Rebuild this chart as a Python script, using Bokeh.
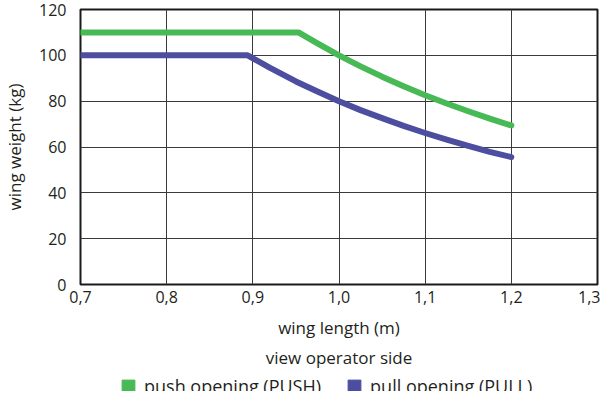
from bokeh.plotting import figure
from bokeh.layouts import column
from bokeh.models import (FixedTicker, CustomJSTickFormatter, Range1d, Legend, LegendItem, Title)
from bokeh.embed import file_html
from bokeh.resources import INLINE

# data
push_length = [0.7, 0.953, 0.975, 1.0, 1.025, 1.05, 1.075, 1.1, 1.125, 1.15, 1.175, 1.2]
push_weight = [110, 110, 105.2, 100, 95.2, 90.7, 86.5, 82.6, 79.0, 75.6, 72.4, 69.4]
pull_length = [0.7, 0.894, 0.92, 0.95, 0.975, 1.0, 1.025, 1.05, 1.075, 1.1, 1.125, 1.15, 1.175, 1.2]
pull_weight = [100, 100, 94.5, 88.6, 84.2, 80, 76.1, 72.6, 69.2, 66.1, 63.2, 60.5, 57.9, 55.6]
x_ticks = [0.7, 0.8, 0.9, 1.0, 1.1, 1.2, 1.3]
y_ticks = [0, 20, 40, 60, 80, 100, 120]
series_names = ["push opening (PUSH)", "pull opening (PULL)"]

GREEN = "#47b955"
BLUE = "#4d4ea0"
TEXT = "#231f20"
FONT = "Open Sans"

p = figure(width=600, height=370, output_backend="svg", toolbar_location=None,
           x_range=Range1d(0.7, 1.3), y_range=Range1d(0, 120),
           min_border_left=67, min_border_top=9, min_border_right=3, min_border_bottom=80)
p.background_fill_color = "white"
p.border_fill_color = "white"
p.outline_line_color = "#1a1a1a"
p.outline_line_width = 2

for ax in (p.xaxis[0], p.yaxis[0]):
    ax.axis_line_color = None
    ax.major_tick_line_color = None
    ax.minor_tick_line_color = None
    ax.major_label_text_font = FONT
    ax.major_label_text_font_size = "16px"
    ax.major_label_text_color = TEXT
    ax.axis_label_text_font = FONT
    ax.axis_label_text_font_style = "normal"
    ax.axis_label_text_font_size = "17px"
    ax.axis_label_text_color = TEXT

p.xaxis.ticker = FixedTicker(ticks=x_ticks)
p.yaxis.ticker = FixedTicker(ticks=y_ticks)
p.xaxis.formatter = CustomJSTickFormatter(code="return tick.toFixed(1).replace('.', ',');")
p.xaxis.axis_label = "wing length (m)"
p.yaxis.axis_label = "wing weight (kg)"
p.xaxis.major_label_standoff = 0
p.xaxis.axis_label_standoff = 10
p.yaxis.major_label_standoff = 8
p.yaxis.axis_label_standoff = 10

p.xgrid.grid_line_color = "#3a3a3a"
p.ygrid.grid_line_color = "#3a3a3a"
p.xgrid.grid_line_width = 1
p.ygrid.grid_line_width = 1

p.line(push_length, push_weight, line_color=GREEN, line_width=6, line_cap="round", line_join="round")
p.line(pull_length, pull_weight, line_color=BLUE, line_width=6, line_cap="round", line_join="round")

t = Title(text="view operator side", align="center", text_font=FONT, text_font_size="17px",
          text_font_style="normal", text_color=TEXT, standoff=4, offset=0)
p.add_layout(t, "below")

# legend strip (its frame is aligned with the chart frame by the column layout)
lg = figure(width=600, height=21, output_backend="svg", toolbar_location=None,
            x_range=Range1d(0, 1), y_range=Range1d(0, 1),
            x_axis_location=None, y_axis_location=None, min_border=0)
lg.grid.visible = False
lg.outline_line_color = None
lg.background_fill_color = "white"
lg.border_fill_color = "white"
sw_push = lg.quad(left=[2], right=[3], bottom=[2], top=[3], fill_color=GREEN, line_color=GREEN)
sw_pull = lg.quad(left=[2], right=[3], bottom=[2], top=[3], fill_color=BLUE, line_color=BLUE)
legend = Legend(items=[LegendItem(label=series_names[0], renderers=[sw_push]),
                       LegendItem(label=series_names[1], renderers=[sw_pull])],
                orientation="horizontal", location=(40, -7),
                label_text_font=FONT, label_text_font_size="18px", label_text_color=TEXT,
                label_standoff=8, label_height=16,
                glyph_width=16, glyph_height=16, spacing=25, padding=0, margin=0,
                border_line_color=None, background_fill_alpha=0)
lg.add_layout(legend, "center")

open("out.html", "w").write(file_html(column(p, lg, spacing=0), INLINE))
